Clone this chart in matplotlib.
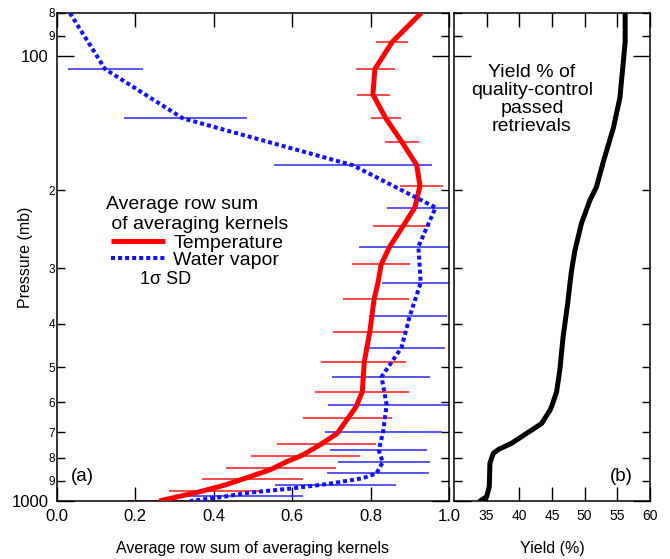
import numpy as np
import matplotlib.pyplot as plt
from matplotlib.ticker import FixedLocator, FuncFormatter, NullFormatter

plt.rcParams['font.family'] = ['Liberation Sans', 'DejaVu Sans']

# temperature: mean row sum of averaging kernels
temp_p = [80, 93, 107, 122, 138, 156, 176, 196, 219, 241, 268, 294, 323, 352,
          417, 487, 568, 614, 658, 705, 749, 790, 816, 850, 882, 920, 953, 1000]
temp_k = [0.929, 0.855, 0.811, 0.806, 0.839, 0.880, 0.918, 0.926, 0.913, 0.883,
          0.849, 0.827, 0.819, 0.809, 0.798, 0.784, 0.779, 0.763, 0.739, 0.715,
          0.670, 0.625, 0.586, 0.545, 0.492, 0.430, 0.365, 0.261]

# temperature 1-sigma spread
temp_sd_p = [93, 107, 122, 138, 156, 196, 241, 294, 352, 417, 487, 568, 650,
             744, 791, 842, 894, 948, 1000]
temp_lo = [0.814, 0.763, 0.765, 0.801, 0.837, 0.875, 0.806, 0.753, 0.730, 0.704,
           0.673, 0.658, 0.628, 0.561, 0.495, 0.431, 0.369, 0.287, 0.182]
temp_hi = [0.895, 0.862, 0.849, 0.878, 0.923, 0.985, 0.952, 0.901, 0.898, 0.885,
           0.890, 0.898, 0.855, 0.814, 0.773, 0.712, 0.627, 0.520, 0.345]

# water vapor: mean row sum of averaging kernels
wv_p = [80, 107, 138, 176, 219, 268, 323, 384, 452, 526, 608, 699, 769, 818,
        867, 889, 916, 937, 958, 980, 1000]
wv_k = [0.033, 0.123, 0.321, 0.755, 0.966, 0.922, 0.928, 0.900, 0.879, 0.828,
        0.841, 0.832, 0.821, 0.831, 0.815, 0.780, 0.690, 0.600, 0.490, 0.420, 0.340]

# water vapor 1-sigma spread
wv_sd_p = [107, 138, 176, 219, 268, 323, 384, 452, 526, 608, 699, 769, 818,
           867, 921, 975]
wv_lo = [0.028, 0.171, 0.554, 0.841, 0.771, 0.828, 0.795, 0.784, 0.702, 0.692,
         0.684, 0.696, 0.716, 0.688, 0.556, 0.325]
wv_hi = [0.219, 0.484, 0.957, 1.090, 1.070, 1.030, 0.995, 0.991, 0.952, 1.003,
         0.981, 0.943, 0.951, 0.948, 0.864, 0.627]

# yield of QC-passed retrievals
yield_p = [80, 93, 124, 145, 172, 197, 211, 238, 274, 303, 320, 360, 428, 508,
           569, 610, 625, 670, 705, 742, 766, 782, 823, 929, 978, 1000]
yield_pct = [56.2, 56.2, 55.4, 54.4, 52.9, 51.8, 50.8, 49.5, 48.5, 48.0, 47.8,
             47.4, 46.7, 46.2, 45.7, 45.0, 44.7, 43.4, 41.1, 38.8, 36.8, 36.0,
             35.5, 35.4, 35.0, 34.0]

major_p = [100, 1000]
minor_p = [80, 90, 200, 300, 400, 500, 600, 700, 800, 900]


def lead_digit(v, pos):
    return str(int(round(v / 10 ** np.floor(np.log10(v)))))


def setup_pressure_axis(ax, labels=True):
    ax.set_yscale('log')
    ax.set_ylim(1000, 80)
    ax.yaxis.set_major_locator(FixedLocator(major_p))
    ax.yaxis.set_minor_locator(FixedLocator(minor_p))
    if labels:
        ax.yaxis.set_major_formatter(FuncFormatter(lambda v, pos: str(int(v))))
        ax.yaxis.set_minor_formatter(FuncFormatter(lead_digit))
    else:
        ax.yaxis.set_major_formatter(NullFormatter())
        ax.yaxis.set_minor_formatter(NullFormatter())
    ax.tick_params(which='both', direction='in', top=True, right=True, width=1)
    ax.tick_params(axis='y', which='major', length=12, labelsize=12, pad=6)
    ax.tick_params(axis='y', which='minor', length=6, labelsize=8.5, pad=1.5)
    for s in ax.spines.values():
        s.set_linewidth(1.1)


fig = plt.figure(figsize=(6.7, 5.59), dpi=100)
ax1 = fig.add_axes([0.085, 0.1038, 0.5851, 0.873])
ax2 = fig.add_axes([0.6776, 0.1038, 0.2925, 0.873])

# left panel: averaging kernel row sums
ax1.hlines(temp_sd_p, temp_lo, temp_hi, color='#ff2a2a', lw=1.2, zorder=2)
ax1.hlines(wv_sd_p, wv_lo, wv_hi, color='#3a3aff', lw=1.2, zorder=2)
ax1.plot(temp_k, temp_p, color='#ff0000', lw=3.6, solid_capstyle='butt',
         label='Temperature', zorder=3)
ax1.plot(wv_k, wv_p, color='#1010ff', lw=2.9, linestyle=(0, (1, 0.75)),
         dash_capstyle='butt', label='Water vapor', zorder=3)

setup_pressure_axis(ax1)
ax1.set_xlim(0, 1.0)
ax1.set_xticks([0.0, 0.2, 0.4, 0.6, 0.8, 1.0])
ax1.xaxis.set_major_formatter(FuncFormatter(lambda v, pos: f'{v:.1f}'))
ax1.tick_params(axis='x', which='major', length=10, labelsize=12, pad=6)

ax1.set_ylabel('Pressure (mb)', fontsize=11.5)
ax1.yaxis.set_label_coords(-0.062, 0.5)
ax1.set_xlabel('Average row sum of averaging kernels', fontsize=11.5)
ax1.xaxis.set_label_coords(0.5, -0.082)

leg = ax1.legend(loc='upper left', bbox_to_anchor=(0.125, 0.625), frameon=False,
                 title='Average row sum\n of averaging kernels', fontsize=14,
                 title_fontsize=14, handlelength=2.8, handletextpad=0.4,
                 labelspacing=0.0, borderpad=0, borderaxespad=0)
leg._legend_box.sep = 1
ax1.text(0.278, 0.453, '1σ SD', fontsize=13, ha='center', va='center',
         transform=ax1.transAxes)
ax1.text(0.066, 0.051, '(a)', fontsize=13.5, ha='center', va='center',
         transform=ax1.transAxes)

# right panel: yield
ax2.plot(yield_pct, yield_p, color='black', lw=3.6, solid_capstyle='round')
setup_pressure_axis(ax2, labels=False)
ax2.set_xlim(30, 60)
ax2.set_xticks([35, 40, 45, 50, 55, 60])
ax2.tick_params(axis='x', which='major', length=10, labelsize=10, pad=6)
ax2.set_xlabel('Yield (%)', fontsize=11.5)
ax2.xaxis.set_label_coords(0.5, -0.082)
ax2.text(0.398, 0.895, 'Yield % of\nquality-control\npassed\nretrievals',
         fontsize=14, ha='center', va='top', linespacing=1.06,
         transform=ax2.transAxes)
ax2.text(0.852, 0.051, '(b)', fontsize=13.5, ha='center', va='center',
         transform=ax2.transAxes)

fig.savefig('out.png', dpi=100)
